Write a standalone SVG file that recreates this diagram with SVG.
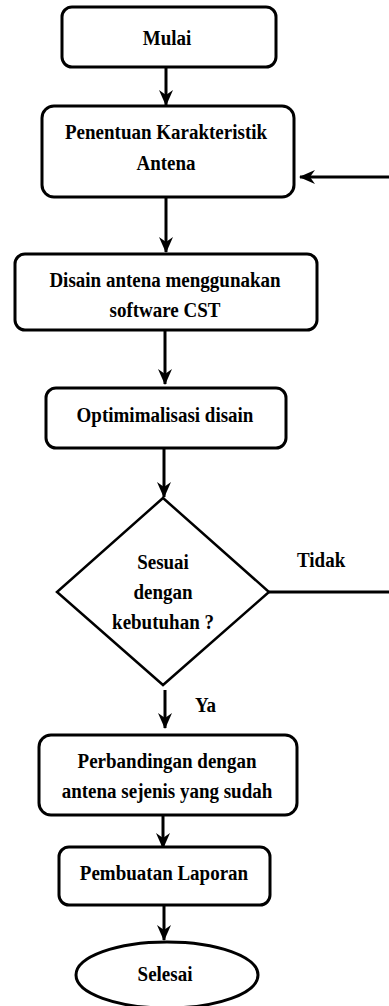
<svg xmlns="http://www.w3.org/2000/svg" width="389" height="1006" viewBox="0 0 389 1006">
<style>
.box{fill:#fff;stroke:#000;stroke-width:3}
.dia{fill:#fff;stroke:#000;stroke-width:2.5}
.t{font-family:"Liberation Serif","Times New Roman",serif;font-weight:bold;font-size:19px;fill:#000;text-anchor:middle}
.lbl{font-family:"Liberation Serif","Times New Roman",serif;font-weight:bold;font-size:19px;fill:#000}
.c{fill:none;stroke:#000;stroke-width:3}
</style>
<defs>
<marker id="ah" markerUnits="userSpaceOnUse" markerWidth="16" markerHeight="16" viewBox="0 0 16 16" refX="15" refY="8" orient="auto">
<path d="M0,1 L16,8 L0,15 L5,8 z" fill="#000"/>
</marker>
</defs>
<rect width="389" height="1006" fill="#fff"/>
<g id="connectors">
<line class="c" x1="166" y1="67" x2="166" y2="105" marker-end="url(#ah)"/>
<line class="c" x1="166" y1="197" x2="166" y2="252" marker-end="url(#ah)"/>
<line class="c" x1="165" y1="330" x2="165" y2="384" marker-end="url(#ah)"/>
<line class="c" x1="164" y1="448" x2="164" y2="497" marker-end="url(#ah)"/>
<line class="c" x1="165" y1="690" x2="165" y2="728" marker-end="url(#ah)"/>
<line class="c" x1="163" y1="815" x2="163" y2="848" marker-end="url(#ah)"/>
<line class="c" x1="164" y1="905" x2="164" y2="940" marker-end="url(#ah)"/>
<line class="c" x1="389" y1="177" x2="300" y2="177" marker-end="url(#ah)"/>
<line class="c" x1="269" y1="592" x2="389" y2="592"/>
<text class="lbl" transform="translate(297,567) scale(1,1.1)">Tidak</text>
<text class="lbl" transform="translate(195,712) scale(1,1.1)">Ya</text>
</g>
<g id="mulai">
<rect class="box" x="62" y="7" width="214" height="60" rx="10"/>
<text class="t" transform="translate(167,45) scale(1,1.1)">Mulai</text>
</g>
<g id="penentuan">
<rect class="box" x="42" y="106" width="252" height="91" rx="12"/>
<text class="t" transform="translate(166,139) scale(1,1.1)">Penentuan Karakteristik</text>
<text class="t" transform="translate(166,170) scale(1,1.1)">Antena</text>
</g>
<g id="disain">
<rect class="box" x="15" y="254" width="302" height="76" rx="10"/>
<text class="t" transform="translate(165,287) scale(1,1.1)">Disain antena menggunakan</text>
<text class="t" transform="translate(165,317) scale(1,1.1)">software CST</text>
</g>
<g id="optimasi">
<rect class="box" x="46" y="388" width="240" height="60" rx="10"/>
<text class="t" transform="translate(165,422) scale(1,1.1)">Optimimalisasi disain</text>
</g>
<g id="keputusan">
<polygon class="dia" points="163,498 269,592 163,685 57,592"/>
<text class="t" transform="translate(163,569) scale(1,1.1)">Sesuai</text>
<text class="t" transform="translate(163,599) scale(1,1.1)">dengan</text>
<text class="t" transform="translate(163,629) scale(1,1.1)">kebutuhan ?</text>
</g>
<g id="perbandingan">
<rect class="box" x="39" y="735" width="258" height="80" rx="12"/>
<text class="t" transform="translate(167,768) scale(1,1.1)">Perbandingan dengan</text>
<text class="t" transform="translate(167,798) scale(1,1.1)">antena sejenis yang sudah</text>
</g>
<g id="laporan">
<rect class="box" x="59" y="847" width="211" height="58" rx="10"/>
<text class="t" transform="translate(164,880) scale(1,1.1)">Pembuatan Laporan</text>
</g>
<g id="selesai">
<ellipse class="box" cx="167" cy="975" rx="91" ry="33"/>
<text class="t" transform="translate(165,981) scale(1,1.1)">Selesai</text>
</g>
</svg>
